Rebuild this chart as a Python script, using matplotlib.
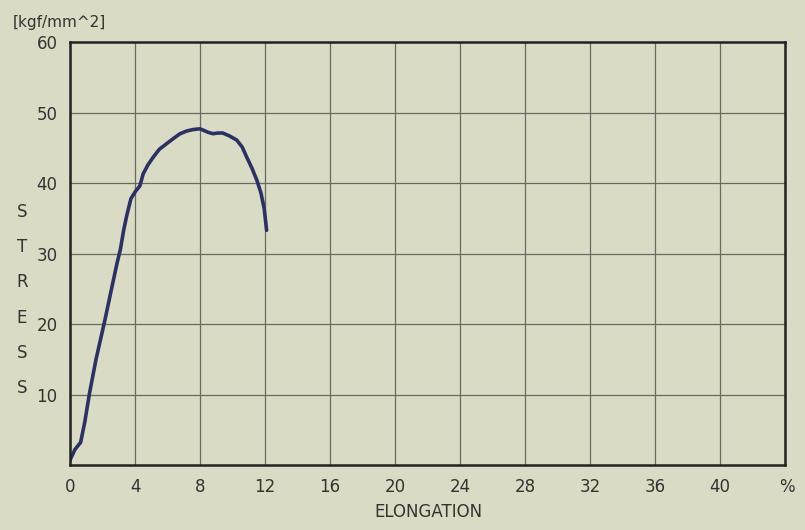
import matplotlib
matplotlib.use("Agg")
import matplotlib.pyplot as plt

elongation = [0.0, 0.3, 0.65, 0.9, 1.2, 1.6, 2.15, 2.6, 2.9, 3.1, 3.3, 3.5, 3.75, 4.05, 4.3, 4.5, 4.8, 5.13, 5.5, 5.95, 6.35, 6.77, 7.2, 7.59, 8.0, 8.2, 8.5, 8.8, 9.1, 9.4, 9.8, 10.26, 10.6, 10.87, 11.2, 11.5, 11.75, 11.95, 12.1]
stress = [0.7, 2.2, 3.2, 6.0, 10.2, 15.0, 20.6, 25.5, 28.7, 30.6, 33.3, 35.5, 37.8, 38.9, 39.6, 41.3, 42.6, 43.7, 44.8, 45.6, 46.3, 47.0, 47.4, 47.6, 47.7, 47.5, 47.2, 47.0, 47.1, 47.1, 46.7, 46.1, 45.1, 43.7, 42.1, 40.4, 38.6, 36.4, 33.3]
x_ticks = [0, 4, 8, 12, 16, 20, 24, 28, 32, 36, 40]
y_ticks = [10, 20, 30, 40, 50, 60]

bg = "#dadbc4"
fig = plt.figure(figsize=(8.05, 5.30), dpi=100, facecolor=bg)
ax = fig.add_axes([0.087, 0.1226, 0.888, 0.798])
ax.set_facecolor(bg)
fam = ["DejaVu Sans Condensed", "DejaVu Sans"]

ax.plot(elongation, stress, color="#2b3163", lw=2.6, solid_capstyle="round", solid_joinstyle="round")
ax.set_xlim(0, 44)
ax.set_ylim(0, 60)
ax.set_xticks(list(range(0, 45, 4)))
ax.set_yticks(y_ticks)
ax.set_xticklabels([str(v) for v in x_ticks] + [""], family=fam, fontsize=12, color="#333333")
ax.set_yticklabels([str(v) for v in y_ticks], family=fam, fontsize=12, color="#333333")
ax.grid(True, color="#6a6a60", lw=0.9)
ax.tick_params(length=0, pad=9)
for s in ax.spines.values():
    s.set_color("#222222")
    s.set_linewidth(1.8)

fig.text(0.016, 0.958, "[kgf/mm^2]", family=fam, fontsize=11, color="#333333", va="center", ha="left")
fig.text(0.978, 0.081, "%", family=fam, fontsize=12, color="#333333", va="center", ha="center")
fig.text(0.532, 0.034, "ELONGATION", family=fam, fontsize=12, color="#333333", va="center", ha="center")
for i, ch in enumerate("STRESS"):
    fig.text(0.027, 0.600 - i * 0.0665, ch, family=fam, fontsize=12, color="#333333", va="center", ha="center")

fig.savefig("out.png", dpi=100, facecolor=bg)
